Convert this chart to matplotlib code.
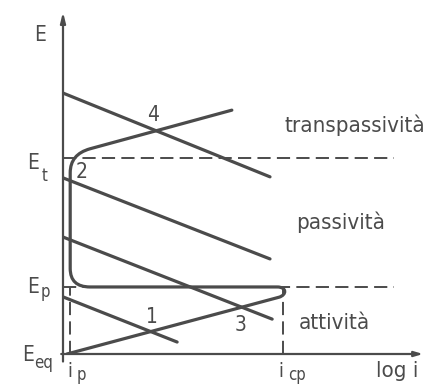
import matplotlib
matplotlib.use("Agg")
import matplotlib.pyplot as plt
from matplotlib.path import Path
from matplotlib.patches import PathPatch

# potential / log-current units are arbitrary (schematic Evans diagram)
E_p = 1.96
E_t = 5.73
i_p = 0.19
i_cp = 6.11

# anodic curve: active Tafel branch, passive plateau, transpassive branch
anodic_pts = [(0.11, 0.0), (6.0, 1.66),
              (6.22, 1.73), (6.22, 1.96), (5.95, 1.96),
              (0.75, 1.96),
              (0.2, 1.96), (0.2, 2.5),
              (0.2, 5.3),
              (0.2, 5.84), (0.75, 6.0),
              (4.69, 7.13)]
anodic_codes = [Path.MOVETO, Path.LINETO,
                Path.CURVE4, Path.CURVE4, Path.CURVE4,
                Path.LINETO,
                Path.CURVE3, Path.CURVE3,
                Path.LINETO,
                Path.CURVE3, Path.CURVE3,
                Path.LINETO]

# cathodic lines (start, end)
cathodic = {
    "1": [(0.0, 1.67), (3.17, 0.35)],
    "3": [(0.0, 3.42), (5.81, 1.02)],
    "2": [(0.0, 5.15), (5.75, 2.78)],
    "4": [(0.0, 7.63), (5.75, 5.18)],
}
# where the intersection numbers sit
num_pos = {"1": (2.47, 1.08), "3": (4.92, 0.85), "2": (0.53, 5.32), "4": (2.5, 6.99)}

regions = ["transpassività", "passività", "attività"]
region_pos = [(8.1, 6.7), (7.7, 3.86), (7.55, 0.91)]

ink = "#4b4b4b"
plt.rcParams["lines.scale_dashes"] = False
font = dict(family="DejaVu Sans", stretch="condensed", color=ink)

fig = plt.figure(figsize=(4.26, 3.85), dpi=100)
ax = fig.add_axes([63 / 426, 31 / 385, 360 / 426, 342 / 385])
ax.set_xlim(0, 10)
ax.set_ylim(0, 10)
ax.axis("off")

# axes with arrows
ax.annotate("", xy=(0, 10), xytext=(0, -0.22),
            arrowprops=dict(arrowstyle="-|>,head_length=0.6,head_width=0.15",
                            color=ink, lw=1.6, shrinkA=0, shrinkB=0),
            annotation_clip=False)
ax.annotate("", xy=(10, 0), xytext=(-0.05, 0),
            arrowprops=dict(arrowstyle="-|>,head_length=0.5,head_width=0.15",
                            color=ink, lw=1.6, shrinkA=0, shrinkB=0),
            annotation_clip=False)

# dashed reference lines
dash = (9.5, 4.5)
ax.plot([0, 9.2], [E_t, E_t], color=ink, lw=1.4, dashes=dash)
ax.plot([0, 9.2], [E_p, E_p], color=ink, lw=1.4, dashes=dash)
ax.plot([i_p, i_p], [0, E_p], color=ink, lw=1.4, dashes=dash)
ax.plot([i_cp, i_cp], [0, E_p], color=ink, lw=1.4, dashes=dash)

ax.add_patch(PathPatch(Path(anodic_pts, anodic_codes), fill=False,
                       edgecolor=ink, lw=2.3, capstyle="round", joinstyle="round"))

for key, ((x0, y0), (x1, y1)) in cathodic.items():
    ax.plot([x0, x1], [y0, y1], color=ink, lw=2.3, solid_capstyle="round")
    ax.text(*num_pos[key], key, fontsize=15, ha="center", va="center", **font)

for name, (x, y) in zip(regions, region_pos):
    ax.text(x, y, name, fontsize=16, ha="center", va="center", **font)

# axis labels
ax.text(-0.64, 9.33, "E", fontsize=15, ha="center", va="center", **font)
ax.text(-0.83, 5.58, "E", fontsize=15, ha="center", va="center", **font)
ax.text(-0.5, 5.2, "t", fontsize=12, ha="center", va="center", **font)
ax.text(-0.83, 1.96, "E", fontsize=15, ha="center", va="center", **font)
ax.text(-0.5, 1.8, "p", fontsize=12, ha="center", va="center", **font)
ax.text(-0.97, -0.03, "E", fontsize=15, ha="center", va="center", **font)
ax.text(-0.53, -0.26, "eq", fontsize=12, ha="center", va="center", **font)
ax.text(0.2, -0.52, "i", fontsize=14, ha="center", va="center", **font)
ax.text(0.5, -0.6, "p", fontsize=12, ha="center", va="center", **font)
ax.text(6.05, -0.5, "i", fontsize=14, ha="center", va="center", **font)
ax.text(6.5, -0.62, "cp", fontsize=12, ha="center", va="center", **font)
ax.text(9.28, -0.5, "log i", fontsize=16, ha="center", va="center", **font)

fig.savefig("out.png", dpi=100)
